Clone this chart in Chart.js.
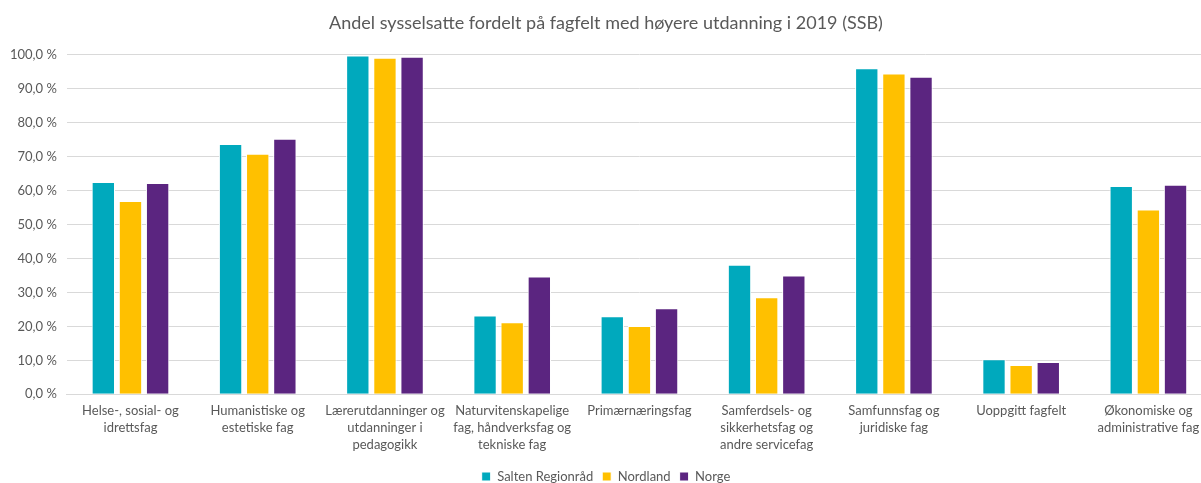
<!DOCTYPE html>
<html>
<head>
<meta charset="utf-8">
<script src="https://cdn.jsdelivr.net/npm/chart.js@4"></script>
<style>
  html, body { margin: 0; padding: 0; background: #fff; overflow: hidden; }
  #wrap { width: 1225px; height: 493px; }
</style>
</head>
<body>
<div id="wrap"><canvas id="myChart" width="1225" height="493"></canvas></div>
<script>
const categories = [
    ['Helse-, sosial- og', 'idrettsfag'],
    ['Humanistiske og', 'estetiske fag'],
    ['Lærerutdanninger og', 'utdanninger i', 'pedagogikk'],
    ['Naturvitenskapelige', 'fag, håndverksfag og', 'tekniske fag'],
    ['Primærnæringsfag'],
    ['Samferdsels- og', 'sikkerhetsfag og', 'andre servicefag'],
    ['Samfunnsfag og', 'juridiske fag'],
    ['Uoppgitt fagfelt'],
    ['Økonomiske og', 'administrative fag']
];
const salten = [62.5, 73.7, 99.7, 23.2, 23.0, 38.1, 96.0, 10.3, 61.3];
const nordland = [56.9, 70.8, 99.1, 21.2, 20.1, 28.6, 94.4, 8.6, 54.4];
const norge = [62.2, 75.2, 99.4, 34.7, 25.3, 35.0, 93.5, 9.5, 61.7];

const textColor = '#595959';
const font = "Lato, 'Open Sans', sans-serif";

const ctx = document.getElementById('myChart');

new Chart(ctx, {
    type: 'bar',
    data: {
        labels: categories,
        datasets: [
            { label: 'Salten Regionråd', data: salten, backgroundColor: '#00a9bd' },
            { label: 'Nordland', data: nordland, backgroundColor: '#ffc000' },
            { label: 'Norge', data: norge, backgroundColor: '#5b2580' }
        ].map(d => Object.assign(d, {
            borderColor: '#ffffff',
            borderWidth: 1,
            categoryPercentage: 0.64,
            barPercentage: 0.86
        }))
    },
    options: {
        responsive: false,
        animation: false,
        layout: { padding: { left: 0, right: 13, top: 0, bottom: 0 } },
        plugins: {
            title: {
                display: true,
                text: 'Andel sysselsatte fordelt på fagfelt med høyere utdanning i 2019 (SSB)',
                color: textColor,
                font: { family: font, size: 18, weight: 'normal' },
                padding: { top: 12, bottom: 21 }
            },
            legend: {
                position: 'bottom',
                labels: {
                    color: textColor,
                    font: { family: font, size: 13 },
                    boxWidth: 9,
                    boxHeight: 9,
                    padding: 9
                }
            },
            tooltip: { enabled: false }
        },
        scales: {
            x: {
                grid: { display: false, drawTicks: false },
                border: { color: '#d9d9d9' },
                ticks: {
                    color: textColor,
                    font: { family: font, size: 13, lineHeight: 1.3 },
                    maxRotation: 0,
                    autoSkip: false,
                    padding: 8
                }
            },
            y: {
                min: 0,
                max: 100,
                grid: { color: '#d9d9d9', drawTicks: false },
                border: { display: false },
                ticks: {
                    stepSize: 10,
                    color: textColor,
                    font: { family: font, size: 13 },
                    padding: 10,
                    callback: v => v.toFixed(1).replace('.', ',') + ' %'
                }
            }
        }
    }
});
</script>
</body>
</html>
